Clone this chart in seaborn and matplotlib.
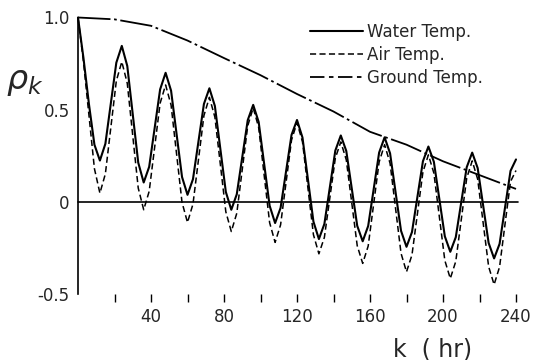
import numpy as np
import pandas as pd
import matplotlib
matplotlib.use("Agg")
import matplotlib.pyplot as plt
import seaborn as sns
from matplotlib.lines import Line2D

# lag k (hr), every 3 hours
lag = list(range(0, 243, 3))

water = [1.0, 0.78, 0.53, 0.31, 0.224, 0.315, 0.535, 0.755, 0.846,
         0.737, 0.475, 0.213, 0.105, 0.19, 0.40, 0.61, 0.70,
         0.603, 0.369, 0.135, 0.038, 0.123, 0.327, 0.531, 0.616,
         0.52, 0.287, 0.054, -0.043, 0.041, 0.242, 0.443, 0.526,
         0.433, 0.206, -0.021, -0.115, -0.033, 0.165, 0.363, 0.444,
         0.349, 0.121, -0.107, -0.202, -0.12, 0.079, 0.278, 0.36,
         0.276, 0.073, -0.13, -0.214, -0.131, 0.068, 0.267, 0.35,
         0.263, 0.053, -0.157, -0.244, -0.164, 0.028, 0.22, 0.30,
         0.217, 0.015, -0.187, -0.271, -0.192, -0.002, 0.188, 0.267,
         0.183, -0.02, -0.223, -0.307, -0.228, -0.03, 0.168, 0.23]

air = [1.0, 0.76, 0.47, 0.18, 0.047, 0.152, 0.404, 0.656, 0.76,
       0.643, 0.359, 0.075, -0.043, 0.057, 0.296, 0.535, 0.634,
       0.525, 0.261, -0.003, -0.112, -0.012, 0.228, 0.468, 0.567,
       0.46, 0.203, -0.054, -0.161, -0.062, 0.175, 0.412, 0.51,
       0.403, 0.145, -0.113, -0.22, -0.125, 0.105, 0.335, 0.43,
       0.326, 0.074, -0.178, -0.282, -0.193, 0.022, 0.237, 0.325,
       0.228, -0.005, -0.238, -0.334, -0.24, -0.012, 0.216, 0.31,
       0.209, -0.035, -0.279, -0.38, -0.288, -0.063, 0.162, 0.255,
       0.156, -0.081, -0.318, -0.416, -0.323, -0.097, 0.129, 0.222,
       0.123, -0.114, -0.351, -0.449, -0.353, -0.12, 0.11, 0.17]

ground_lag = [0, 20, 40, 60, 80, 100, 120, 140, 160, 180, 200, 220, 240]
ground = [1.0, 0.99, 0.955, 0.875, 0.78, 0.687, 0.585, 0.49, 0.38, 0.31, 0.22, 0.145, 0.07]

series_labels = ["Water Temp.", "Air Temp.", "Ground Temp."]
xtick_vals = list(range(20, 241, 20))
xtick_labels = ["" if v % 40 else str(v) for v in xtick_vals]
ytick_vals = [-0.5, 0, 0.5, 1.0]
ytick_labels = ["-0.5", "0", "0.5", "1.0"]

sns.set_style("white")
plt.rcParams["font.family"] = ["DejaVu Sans"]

fig = plt.figure(figsize=(5.33, 3.60), dpi=100)
ax = fig.add_axes([78 / 533, 1 - 294 / 360, 438 / 533, (294 - 17.5) / 360])

df_w = pd.DataFrame({"k": lag, "rho": water})
df_a = pd.DataFrame({"k": lag, "rho": air})
df_g = pd.DataFrame({"k": ground_lag, "rho": ground})

ls_air = (0, (4.0, 2.2))
ls_ground = (0, (18, 2.0, 1.5, 2.0))

sns.lineplot(data=df_a, x="k", y="rho", ax=ax, color="black", lw=1.1,
             linestyle=ls_air, clip_on=False, solid_joinstyle="round",
             dash_joinstyle="round")
sns.lineplot(data=df_w, x="k", y="rho", ax=ax, color="black", lw=1.5,
             clip_on=False, solid_joinstyle="round")
sns.lineplot(data=df_g, x="k", y="rho", ax=ax, color="black", lw=1.3,
             linestyle=ls_ground, clip_on=False)

ax.axhline(0, color="black", lw=1.2, xmin=0, xmax=1.005, clip_on=False)

ax.set_xlim(0, 240)
ax.set_ylim(-0.5, 1.0)

for s in ["top", "right", "bottom"]:
    ax.spines[s].set_visible(False)
ax.spines["left"].set_color("black")
ax.spines["left"].set_linewidth(1.2)

ax.set_xticks(xtick_vals)
ax.set_xticklabels(xtick_labels, fontsize=12)
ax.set_yticks(ytick_vals)
ax.set_yticklabels(ytick_labels, fontsize=12)
ax.tick_params(axis="x", bottom=True, direction="out", length=6, width=1,
               color="black", pad=4)
ax.tick_params(axis="y", left=False, length=0, pad=6)
ax.set_xlabel("")
ax.set_ylabel("")

fig.text(25 / 533, 1 - 82 / 360, r"$\rho_k$", fontsize=24, ha="center", va="center")
fig.text(433 / 533, 1 - 349 / 360, "k  ( hr)", fontsize=17, ha="center", va="center")

handles = [
    Line2D([], [], color="black", lw=1.5),
    Line2D([], [], color="black", lw=1.1, linestyle=ls_air),
    Line2D([], [], color="black", lw=1.3, linestyle=(0, (8, 2.5, 2.5, 2.5))),
]
fig.legend(handles, series_labels, loc="upper left",
           bbox_to_anchor=(310 / 533, 1 - 23 / 360), frameon=False,
           fontsize=12, handlelength=3.2, handletextpad=0.2,
           labelspacing=0.3, borderaxespad=0, borderpad=0)

fig.savefig("out.png", dpi=100, facecolor="white")
